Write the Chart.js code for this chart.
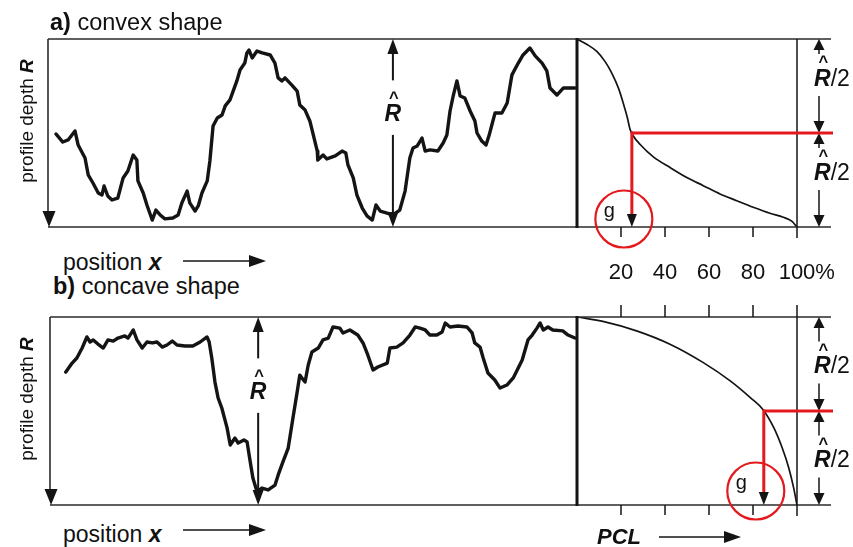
<!DOCTYPE html>
<html>
<head>
<meta charset="utf-8">
<script src="https://cdn.jsdelivr.net/npm/chart.js@4.4.1/dist/chart.umd.min.js"></script>
<style>
  html, body { margin: 0; padding: 0; background: #fff; }
  #wrap { position: relative; width: 853px; height: 547px; overflow: hidden;
          font-family: "Liberation Sans", Arial, Helvetica, sans-serif; color: #111; }
  canvas, svg { position: absolute; }
  .t { position: absolute; white-space: nowrap; }
  .b { font-weight: bold; }
  .bi { font-weight: bold; font-style: italic; }
  .rh { position: relative; display: inline-block; font-weight: bold; font-style: italic; }
  .rh .hat { position: absolute; left: 0.12em; right: 0; text-align: center; top: -0.98em;
             font-style: normal; font-weight: bold; font-size: 0.72em; }
  .rot { position: absolute; white-space: nowrap; transform: translate(-50%, -50%) rotate(-90deg); }
</style>
</head>
<body>
<div id="wrap"></div>
<script>
// ---- profile a) convex: position (% of trace length) and depth (% of R-hat, 0 = highest peak)
const positionA = [1.5,2.8,3.8,5.1,5.7,7.0,7.6,8.5,9.5,10.2,
  10.6,11.3,12.1,13.2,14.2,15.1,16.1,16.8,17.0,18.0,
  18.7,19.7,20.4,21.2,22.1,23.6,24.6,25.3,26.3,26.8,
  27.8,28.4,29.1,30.1,30.6,31.2,32.0,32.9,33.5,34.4,
  35.0,35.7,36.3,37.2,37.6,38.0,38.6,39.5,40.5,42.0,
  42.9,43.5,44.2,44.8,46.1,47.1,47.6,48.6,49.5,50.9,
  51.0,52.0,52.7,54.3,55.6,56.3,56.7,57.7,58.4,59.4,
  60.3,61.3,62.0,62.8,64.1,65.2,66.5,67.5,68.4,69.0,
  69.8,70.7,71.3,72.2,73.7,74.7,75.4,76.0,76.6,77.3,
  77.9,78.8,79.8,80.7,81.1,82.0,82.8,83.4,84.1,84.5,
  85.8,86.8,87.7,88.9,89.8,91.1,92.1,93.4,94.3,94.9,
  96.2,97.4,98.3,99.6];
const depthA = [50.5,54.8,53.7,48.9,56.4,63.3,72.3,76.6,81.9,83.0,
  78.2,83.5,85.6,84.6,73.9,70.2,61.7,64.4,75.5,81.9,
  88.3,96.3,91.0,93.6,95.7,95.2,93.6,87.2,80.9,87.2,
  91.5,88.8,81.9,75.5,64.9,46.3,42.0,40.4,35.6,32.4,
  27.7,22.3,16.5,12.8,7.4,5.9,10.1,6.4,7.4,8.5,
  12.8,20.7,22.3,20.7,24.5,27.7,35.1,37.8,43.6,59.6,
  64.4,61.7,63.8,62.2,59.6,60.6,67.0,73.9,83.0,89.9,
  94.1,96.3,88.3,91.5,92.6,93.6,91.0,80.9,63.3,58.0,
  56.9,52.7,59.6,59.0,59.6,55.3,51.1,38.3,30.3,22.3,
  30.3,31.4,38.3,43.6,50.0,54.3,56.4,51.1,43.6,39.4,
  39.4,34.0,19.1,12.8,8.5,4.8,9.0,12.8,17.0,26.1,
  29.8,26.1,26.1,26.1];

// ---- profile b) concave
const positionB = [3.0,4.2,5.1,6.1,7.0,7.6,8.2,9.1,10.1,11.0,
  12.0,12.9,14.2,14.8,15.8,16.5,17.5,18.4,19.4,20.3,
  21.3,22.2,23.2,24.1,25.6,27.1,28.5,29.8,30.2,30.7,
  31.3,31.9,32.6,33.6,34.2,35.1,35.7,36.8,37.4,38.0,
  38.5,39.3,40.2,41.4,42.7,43.3,44.2,45.2,46.1,46.9,
  47.4,47.8,48.4,49.0,49.7,50.9,51.8,52.8,53.7,55.0,
  55.6,56.9,58.4,59.4,60.3,61.3,62.2,64.0,64.5,65.8,
  67.0,68.3,69.3,70.2,71.2,72.1,73.4,74.4,75.0,75.9,
  77.4,79.1,80.1,80.6,81.6,82.2,83.1,84.4,85.4,86.7,
  87.9,89.6,90.7,91.5,92.4,93.0,93.6,94.5,95.4,97.3,
  98.3,99.6];
const depthB = [29.3,24.5,21.8,16.5,10.6,13.3,12.2,14.4,16.5,12.2,
  12.8,11.2,10.1,11.2,6.9,12.2,16.5,13.3,13.8,13.3,
  16.0,14.9,12.8,14.9,15.4,15.4,13.3,10.6,13.3,21.8,
  34.6,43.1,48.4,59.0,68.1,64.4,67.0,65.4,66.5,77.1,
  85.6,93.1,91.0,92.0,89.4,84.0,77.1,69.7,53.7,39.9,
  30.9,32.4,34.6,25.5,18.6,16.5,12.2,11.2,5.3,5.9,
  8.5,6.9,9.6,13.8,20.2,28.2,26.6,24.5,16.5,16.0,
  13.8,9.6,5.3,5.9,6.9,9.6,9.6,8.0,3.2,5.3,
  4.8,5.3,8.5,13.8,16.0,21.8,29.8,33.5,37.8,36.2,
  32.4,22.9,12.2,9.6,5.9,3.2,6.9,5.3,6.9,7.4,
  9.6,11.2];

// ---- profile curve of load (PCL): material ratio % against depth %
const ratioA      = [0,4.4,9.0,12.7,15.8,18.8,21.0,22.9,24.1,25.6,28.6,34.7,42.3,49.9,57.4,65.0,72.6,80.1,87.7,93.8,97.6,100];
const ratioDepthA = [0,2.8,6.6,11.9,18.1,26.0,34.0,41.9,48.0,51.6,56.0,62.7,68.4,73.7,78.0,82.4,86.0,89.5,92.7,94.8,96.9,100];
const ratioB      = [0,12.2,27.4,42.5,57.6,69.8,78.9,84.5,89.5,93.3,96.3,98.5,100];
const ratioDepthB = [0,2.5,7.5,14.6,24.4,34.1,43.0,49.2,59.0,69.7,80.4,91.0,100];

const ratioTicks = [20, 40, 60, 80, 100];
const rHatPosA = 65.2;   // position of the R-hat marker, profile a
const rHatPosB = 39.5;   // position of the R-hat marker, profile b
const halfDepth = 50;    // R-hat / 2

const INK = '#141414';
const FRAME = '#2a2a2a';
const RED = '#e3191d';

const wrap = document.getElementById('wrap');

function pts(xs, ys) { return xs.map((v, i) => ({ x: v, y: ys[i] })); }

// material ratio where the load curve crosses a given depth
function ratioAt(ratio, depth, d) {
  for (let i = 1; i < depth.length; i++) {
    if (depth[i] >= d) {
      const t = (d - depth[i - 1]) / (depth[i] - depth[i - 1]);
      return ratio[i - 1] + t * (ratio[i] - ratio[i - 1]);
    }
  }
  return ratio[ratio.length - 1];
}

function line(ctx, x1, y1, x2, y2) {
  ctx.beginPath(); ctx.moveTo(x1, y1); ctx.lineTo(x2, y2); ctx.stroke();
}
function arrowHead(ctx, x, tipY, dir, w, h) {
  const s = dir === 'down' ? -1 : 1;
  ctx.beginPath();
  ctx.moveTo(x, tipY);
  ctx.lineTo(x - w / 2, tipY + s * h);
  ctx.lineTo(x + w / 2, tipY + s * h);
  ctx.closePath(); ctx.fill();
}
function halfLabelBaselines(yt, ym, yb, frac) {
  return [yt + frac * (ym - yt), ym + frac * (yb - ym)];
}

// frame, depth arrow and R-hat marker around a roughness profile
const profileDecor = {
  id: 'profileDecor',
  afterDatasetsDraw(chart, args, o) {
    const { ctx, chartArea: a, scales: { x, y } } = chart;
    ctx.save();
    ctx.strokeStyle = FRAME; ctx.fillStyle = INK; ctx.lineWidth = 1.3;
    line(ctx, a.left, a.top, a.right, a.top);
    line(ctx, a.left, a.bottom, a.right, a.bottom);
    ctx.lineWidth = 1.6;
    line(ctx, a.left, a.top, a.left, a.bottom - 12);
    arrowHead(ctx, a.left + 1, a.bottom, 'down', 13, 16);

    const xr = x.getPixelForValue(o.rHatPos);
    const yt = y.getPixelForValue(0), yb = y.getPixelForValue(100);
    ctx.strokeStyle = INK; ctx.lineWidth = 2;
    arrowHead(ctx, xr, yt, 'up', 11, 15);
    line(ctx, xr, yt + 14, xr, y.getPixelForValue(22));
    line(ctx, xr, y.getPixelForValue(51), xr, yb - 14);
    arrowHead(ctx, xr, yb, 'down', 11, 15);
    ctx.restore();
  }
};

// frame, ticks, R-hat/2 arrows and the g construction of a load curve
const ratioDecor = {
  id: 'ratioDecor',
  afterDatasetsDraw(chart, args, o) {
    const { ctx, scales: { x, y } } = chart;
    const x0 = x.getPixelForValue(0), x100 = x.getPixelForValue(100);
    const yt = y.getPixelForValue(0), yb = y.getPixelForValue(100), ym = y.getPixelForValue(halfDepth);
    const xEnd = x100 + 34;
    ctx.save();
    ctx.strokeStyle = FRAME; ctx.fillStyle = INK; ctx.lineWidth = 1.3;
    line(ctx, x0, yt, xEnd, yt);
    line(ctx, x0, yb, xEnd, yb);
    ctx.strokeStyle = INK; ctx.lineWidth = 3;
    line(ctx, x0, yt - 1, x0, yb + 1);
    ctx.lineWidth = 1.5;
    line(ctx, x100, yt - (o.topTicks ? 12 : 0), x100, yb + 11);
    ratioTicks.forEach(v => {
      if (v >= 100) return;
      const px = x.getPixelForValue(v);
      line(ctx, px, yb, px, yb + 10);
      if (o.topTicks) line(ctx, px, yt - 12, px, yt);
    });

    // R-hat/2 dimension arrows
    const xa = x100 + 22;
    const [b1, b2] = halfLabelBaselines(yt, ym, yb, o.labelFrac);
    ctx.lineWidth = 1.5;
    [[yt, ym, b1], [ym, yb, b2]].forEach(([s, e, bl]) => {
      arrowHead(ctx, xa, s, 'up', 11, 11);
      const lt = bl - 29, lb = bl + 6;
      if (lt - 3 > s + 11) line(ctx, xa, s + 10, xa, lt - 3);
      if (e - 12 > lb + 4) line(ctx, xa, lb + 4, xa, e - 11);
      arrowHead(ctx, xa, e, 'down', 11, 12);
    });

    // g: material ratio at half the profile depth
    const gx = x.getPixelForValue(o.g);
    ctx.strokeStyle = RED; ctx.lineWidth = 3;
    line(ctx, gx, ym, xEnd + 2, ym);
    line(ctx, gx, ym - 1.5, gx, yb - 12);
    ctx.fillStyle = INK;
    arrowHead(ctx, gx, yb, 'down', 10, 13);
    ctx.lineWidth = 2.2;
    ctx.beginPath();
    ctx.arc(gx - 8, yb + o.circleDy, 28.5, 0, Math.PI * 2);
    ctx.stroke();
    ctx.restore();
  }
};

function makeCanvas(area, pad) {
  const c = document.createElement('canvas');
  const w = area.w + pad.l + pad.r, h = area.h + pad.t + pad.b;
  c.width = w; c.height = h;
  c.style.left = (area.x - pad.l) + 'px'; c.style.top = (area.y - pad.t) + 'px';
  c.style.width = w + 'px'; c.style.height = h + 'px';
  wrap.appendChild(c);
  return c;
}

function baseOptions(pad, pluginOpts) {
  return {
    responsive: false, maintainAspectRatio: false, animation: false, events: [],
    devicePixelRatio: 1,
    layout: { padding: { left: pad.l, right: pad.r, top: pad.t, bottom: pad.b } },
    plugins: Object.assign({ legend: { display: false }, tooltip: { enabled: false } }, pluginOpts),
    scales: {
      x: { type: 'linear', min: 0, max: 100, display: false },
      y: { type: 'linear', min: 0, max: 100, reverse: true, display: false }
    }
  };
}

function profileChart(area, xs, ys, rHatPos) {
  const pad = { l: 12, r: 4, t: 6, b: 6 };
  const c = makeCanvas(area, pad);
  const chart = new Chart(c, {
    type: 'line',
    data: { datasets: [{ data: pts(xs, ys), borderColor: INK, borderWidth: 3.4, pointRadius: 0,
      fill: false, tension: 0, borderJoinStyle: 'round', borderCapStyle: 'round' }] },
    options: baseOptions(pad, { profileDecor: { rHatPos } }),
    plugins: [profileDecor]
  });
  return { chart, ox: area.x - pad.l, oy: area.y - pad.t };
}

function ratioChart(area, xs, ys, g, extra) {
  const pad = { l: 6, r: 56, t: 16, b: 30 };
  const c = makeCanvas(area, pad);
  const chart = new Chart(c, {
    type: 'line',
    data: { datasets: [{ data: pts(xs, ys), borderColor: INK, borderWidth: 1.7, pointRadius: 0,
      fill: false, cubicInterpolationMode: 'monotone' }] },
    options: baseOptions(pad, { ratioDecor: Object.assign({ g }, extra) }),
    plugins: [ratioDecor]
  });
  return { chart, ox: area.x - pad.l, oy: area.y - pad.t };
}

// ---- text helpers
function text(html, x, baseline, size, align, cls) {
  const d = document.createElement('div');
  d.className = 't ' + (cls || '');
  d.style.fontSize = size + 'px';
  d.style.lineHeight = size + 'px';
  d.innerHTML = html;
  d.style.top = (baseline - 0.8465 * size) + 'px';
  d.style.left = x + 'px';
  if (align === 'center') d.style.transform = 'translateX(-50%)';
  wrap.appendChild(d);
  return d;
}
function rotText(html, cx, cy, size) {
  const d = document.createElement('div');
  d.className = 'rot';
  d.style.fontSize = size + 'px';
  d.style.lineHeight = size + 'px';
  d.style.left = cx + 'px'; d.style.top = cy + 'px';
  d.innerHTML = html;
  wrap.appendChild(d);
}
const RHAT = '<span class="rh"><span class="hat">^</span>R</span>';

// ---- build both panels
const gA = ratioAt(ratioA, ratioDepthA, halfDepth);
const gB = ratioAt(ratioB, ratioDepthB, halfDepth);

const panels = [
  { top: 39, left: 48, xs: positionA, ys: depthA, rHat: rHatPosA, rx: ratioA, ry: ratioDepthA, g: gA,
    extra: { topTicks: false, labelFrac: 0.5, circleDy: -8 }, gDy: -10 },
  { top: 317, left: 50, xs: positionB, ys: depthB, rHat: rHatPosB, rx: ratioB, ry: ratioDepthB, g: gB,
    extra: { topTicks: true, labelFrac: 0.6, circleDy: -14 }, gDy: -16 }
];

panels.forEach((p, i) => {
  const prof = profileChart({ x: p.left, y: p.top, w: 577 - p.left, h: 188 }, p.xs, p.ys, p.rHat);
  const rat = ratioChart({ x: 577, y: p.top, w: 220, h: 188 }, p.rx, p.ry, p.g, p.extra);

  // R-hat label in the gap of the depth arrow
  const px = prof.chart.scales.x, py = prof.chart.scales.y;
  text(RHAT, prof.ox + px.getPixelForValue(p.rHat), prof.oy + py.getPixelForValue(44), 23, 'center');

  // R-hat/2 labels
  const rx = rat.chart.scales.x, ry = rat.chart.scales.y;
  const yt = rat.oy + ry.getPixelForValue(0), yb = rat.oy + ry.getPixelForValue(100);
  const ym = rat.oy + ry.getPixelForValue(halfDepth);
  const xa = rat.ox + rx.getPixelForValue(100) + 22;
  halfLabelBaselines(yt, ym, yb, p.extra.labelFrac).forEach(bl => {
    text(RHAT + '/2', xa - 5, bl, 23, 'left');
  });

  // g label inside the circle
  text('g', rat.ox + rx.getPixelForValue(p.g) - 28, yb + p.gDy, 20, 'left');

  // tick labels under panel a
  if (i === 0) {
    ratioTicks.forEach(v => {
      const tx = rat.ox + rx.getPixelForValue(v);
      if (v === 100) {
        text('100<span style="position:absolute;left:100%">%</span>', tx, 280, 22, 'center');
      } else {
        text(String(v), tx, 280, 22, 'center');
      }
    });
  }

  rotText('profile depth <span class="bi">R</span>', 26, p.top + 82, 19);
});

// ---- titles and axis captions
text('<span class="b">a)</span> convex shape', 50, 31, 23.5, 'left');
text('position <span class="bi">x</span>', 63, 270, 23, 'left');
text('<span class="b">b)</span> concave shape', 53, 295, 23.5, 'left');
text('position <span class="bi">x</span>', 63, 542, 23, 'left');
text('PCL', 597, 545, 22, 'left', 'bi');

// caption arrows
const svgNS = 'http://www.w3.org/2000/svg';
const svg = document.createElementNS(svgNS, 'svg');
svg.setAttribute('width', 853); svg.setAttribute('height', 547);
svg.style.left = '0px'; svg.style.top = '0px';
function capArrow(x1, x2, yy) {
  const l = document.createElementNS(svgNS, 'line');
  l.setAttribute('x1', x1); l.setAttribute('x2', x2 - 14);
  l.setAttribute('y1', yy); l.setAttribute('y2', yy);
  l.setAttribute('stroke', INK); l.setAttribute('stroke-width', 1.6);
  svg.appendChild(l);
  const h = document.createElementNS(svgNS, 'polygon');
  h.setAttribute('points', `${x2},${yy} ${x2 - 17},${yy - 6} ${x2 - 17},${yy + 6}`);
  h.setAttribute('fill', INK);
  svg.appendChild(h);
}
capArrow(183, 266, 261);
capArrow(183, 266, 530);
capArrow(659, 741, 537);
wrap.appendChild(svg);
</script>
</body>
</html>
